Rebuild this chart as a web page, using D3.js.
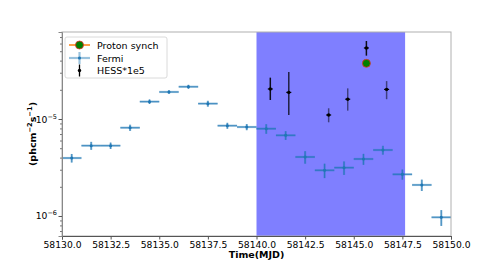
<!DOCTYPE html>
<html><head><meta charset="utf-8">
<script src="https://cdn.jsdelivr.net/npm/d3@7"></script>
<style>body{margin:0;background:#fff}svg{display:block;font-family:"DejaVu Sans",sans-serif}</style>
</head><body><svg id="c" width="501" height="265"></svg>
<script>
// ---- data ----
const fermiTime = [58130.5,58131.5,58132.5,58133.5,58134.5,58135.5,58136.5,58137.5,58138.5,58139.5,
                   58140.5,58141.5,58142.5,58143.5,58144.5,58145.5,58146.5,58147.5,58148.5,58149.5];
const fermiFlux = [3.96e-6,5.31e-6,5.31e-6,8.13e-6,1.51e-5,1.90e-5,2.15e-5,1.44e-5,8.53e-6,8.27e-6,
                   7.94e-6,6.79e-6,4.06e-6,2.96e-6,3.15e-6,3.87e-6,4.79e-6,2.69e-6,2.09e-6,9.7e-7];
const fermiErr  = [0.4e-6,0.5e-6,0.4e-6,0.6e-6,0.8e-6,0.8e-6,1.0e-6,1.0e-6,0.6e-6,0.6e-6,
                   0.9e-6,0.7e-6,0.6e-6,0.5e-6,0.5e-6,0.5e-6,0.5e-6,0.32e-6,0.28e-6,0.18e-6];
const fermiTimeErr = 0.5;
const hessTime = [58140.71,58141.66,58143.71,58144.69,58145.65,58146.69];
const hessFlux = [2.04e-5,1.88e-5,1.10e-5,1.60e-5,5.40e-5,2.02e-5];
const hessLo   = [1.57e-5,1.10e-5,9.25e-6,1.22e-5,4.50e-5,1.60e-5];
const hessHi   = [2.67e-5,3.05e-5,1.29e-5,2.07e-5,6.37e-5,2.46e-5];
const protonTime = [58145.65];
const protonFlux = [3.75e-5];
const flareStart = 58140.0, flareEnd = 58147.64;
const xTicks = [58130,58132.5,58135,58137.5,58140,58142.5,58145,58147.5,58150];
const legendLabels = ["Proton synch","Fermi","HESS*1e5"];

// ---- layout ----
const L=62,R=451,T=32,B=236;
const svg=d3.select("#c");
const x=d3.scaleLinear().domain([58130,58150]).range([L,R]);
const y=d3.scaleLog().domain([6.22e-7,7.89e-5]).range([B,T]);

// flare band
svg.append("rect").attr("x",x(flareStart)).attr("y",T)
  .attr("width",x(flareEnd)-x(flareStart)).attr("height",B-T)
  .attr("fill","#0000ff").attr("fill-opacity",0.5);

// Fermi
const blue="#1f77b4";
const gF=svg.append("g");
fermiTime.forEach((t,i)=>{
  const cx=x(t), cy=y(fermiFlux[i]);
  gF.append("line").attr("x1",x(t-fermiTimeErr)).attr("x2",x(t+fermiTimeErr)).attr("y1",cy).attr("y2",cy)
    .attr("stroke",blue).attr("stroke-width",2.2).attr("stroke-opacity",0.45);
  gF.append("line").attr("x1",x(t-fermiTimeErr)).attr("x2",x(t+fermiTimeErr)).attr("y1",cy).attr("y2",cy)
    .attr("stroke",blue).attr("stroke-width",1).attr("stroke-opacity",0.75);
  gF.append("line").attr("x1",cx).attr("x2",cx).attr("y1",y(fermiFlux[i]+fermiErr[i])).attr("y2",y(fermiFlux[i]-fermiErr[i]))
    .attr("stroke",blue).attr("stroke-width",2.2).attr("stroke-opacity",0.45);
  gF.append("line").attr("x1",cx).attr("x2",cx).attr("y1",y(fermiFlux[i]+fermiErr[i])).attr("y2",y(fermiFlux[i]-fermiErr[i]))
    .attr("stroke",blue).attr("stroke-width",1).attr("stroke-opacity",0.75);
  gF.append("circle").attr("cx",cx).attr("cy",cy).attr("r",1.5).attr("fill",blue);
});

// HESS
const hessOpacity=[0.9,0.75,0.5,0.5,0.9,0.5];
const gH=svg.append("g");
hessTime.forEach((t,i)=>{
  const cx=x(t), cy=y(hessFlux[i]);
  gH.append("line").attr("x1",cx).attr("x2",cx).attr("y1",y(hessHi[i])).attr("y2",y(hessLo[i]))
    .attr("stroke","#000").attr("stroke-width",1.5).attr("stroke-opacity",hessOpacity[i]);
  gH.append("line").attr("x1",cx-2.5).attr("x2",cx+2.5).attr("y1",cy).attr("y2",cy)
    .attr("stroke","#000").attr("stroke-width",1.2);
  gH.append("circle").attr("cx",cx).attr("cy",cy).attr("r",1.7).attr("fill","#000");
});

// Proton synch
svg.append("g").selectAll("circle").data(protonTime).join("circle")
  .attr("cx",d=>x(d)).attr("cy",(d,i)=>y(protonFlux[i])).attr("r",4)
  .attr("fill","green").attr("stroke","#e8302a").attr("stroke-width",0.8);

// frame
svg.append("rect").attr("x",L).attr("y",T).attr("width",R-L).attr("height",B-T)
  .attr("fill","none").attr("stroke","#b0b0b0").attr("stroke-width",1);

// axes
const xa=svg.append("g").attr("transform",`translate(0,${B})`)
  .call(d3.axisBottom(x).tickValues(xTicks).tickFormat(d3.format(".1f")).tickSize(3.5).tickPadding(2));
xa.select(".domain").attr("stroke","#555");
xa.selectAll("text").attr("font-size",9.2).attr("fill","#000").attr("font-family","DejaVu Sans");
xa.selectAll("line").attr("stroke","#555");

const majors=[1e-6,1e-5];
const minors=[];
[1e-7,1e-6,1e-5].forEach(p=>{for(let k=2;k<=9;k++){const v=k*p; if(v>=y.domain()[0]&&v<=y.domain()[1]) minors.push(v);}});
const ya=svg.append("g").attr("transform",`translate(${L},0)`)
  .call(d3.axisLeft(y).tickValues(majors).tickFormat(()=>"").tickSize(3.5));
ya.select(".domain").attr("stroke","#888");
ya.selectAll("line").attr("stroke","#555");
const yam=svg.append("g").attr("transform",`translate(${L},0)`)
  .call(d3.axisLeft(y).tickValues(minors).tickFormat(()=>"").tickSize(2));
yam.select(".domain").remove();
yam.selectAll("line").attr("stroke","#777");
majors.forEach(v=>{
  const e=Math.round(Math.log10(v));
  const t=svg.append("text").attr("x",L-5).attr("y",y(v)+3.5).attr("text-anchor","end")
    .attr("font-size",9.2).attr("fill","#000");
  t.append("tspan").text("10");
  t.append("tspan").attr("dy",-4).attr("font-size",6.5).text("\u2212"+Math.abs(e));
});

// axis labels
svg.append("text").attr("x",(L+R)/2).attr("y",258).attr("text-anchor","middle")
  .attr("font-size",9.5).attr("font-weight","bold").text("Time(MJD)");
const yl=svg.append("text").attr("transform",`translate(36,${(T+B)/2}) rotate(-90)`)
  .attr("text-anchor","middle").attr("font-size",9.5).attr("font-weight","bold");
yl.append("tspan").text("(phcm");
yl.append("tspan").attr("dy",-4).attr("font-size",6.7).text("\u22122");
yl.append("tspan").attr("dy",4).text("s");
yl.append("tspan").attr("dy",-4).attr("font-size",6.7).text("\u22121");
yl.append("tspan").attr("dy",4).text(")");

// legend
const lg=svg.append("g");
lg.append("rect").attr("x",65).attr("y",37).attr("width",102).attr("height",41).attr("rx",2)
  .attr("fill","#fff").attr("fill-opacity",0.8).attr("stroke","#d0d0d0").attr("stroke-width",0.8);
const ly=[45,58,70.5];
// proton
lg.append("line").attr("x1",69).attr("x2",90).attr("y1",ly[0]).attr("y2",ly[0]).attr("stroke","#ff7f0e").attr("stroke-width",1.5);
lg.append("circle").attr("cx",79.5).attr("cy",ly[0]).attr("r",4).attr("fill","green").attr("stroke","#e8302a").attr("stroke-width",0.8);
// fermi
lg.append("line").attr("x1",69).attr("x2",90).attr("y1",ly[1]).attr("y2",ly[1]).attr("stroke",blue).attr("stroke-width",2.2).attr("stroke-opacity",0.45);
lg.append("line").attr("x1",79.5).attr("x2",79.5).attr("y1",ly[1]-6).attr("y2",ly[1]+6).attr("stroke",blue).attr("stroke-width",2.2).attr("stroke-opacity",0.45);
lg.append("circle").attr("cx",79.5).attr("cy",ly[1]).attr("r",1.5).attr("fill",blue);
// hess
lg.append("line").attr("x1",79.5).attr("x2",79.5).attr("y1",ly[2]-6).attr("y2",ly[2]+6).attr("stroke","#000").attr("stroke-width",1.3);
lg.append("circle").attr("cx",79.5).attr("cy",ly[2]).attr("r",1.7).attr("fill","#000");
legendLabels.forEach((s,i)=>lg.append("text").attr("x",97).attr("y",ly[i]+3.5).attr("font-size",9.5).text(s));
</script></body></html>
